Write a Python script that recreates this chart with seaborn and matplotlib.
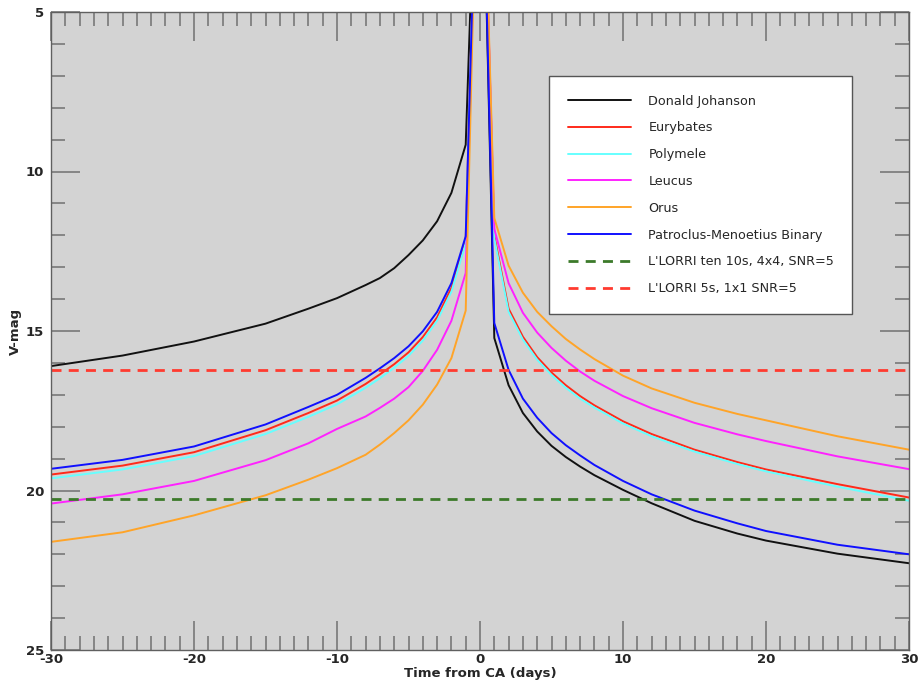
import matplotlib
matplotlib.use("Agg")
import matplotlib.pyplot as plt
from matplotlib.ticker import MultipleLocator
import seaborn as sns
import pandas as pd

# ---- data ----
days = [-30, -25, -20, -15, -12, -10, -8, -7, -6, -5, -4, -3, -2, -1, 0,
        1, 2, 3, 4, 5, 6, 7, 8, 10, 12, 15, 18, 20, 25, 30]

donald_johanson = [16.10, 15.77, 15.33, 14.77, 14.30, 13.97, 13.56, 13.34, 13.03, 12.62, 12.16, 11.56, 10.67, 9.16, -4.0,
                   15.22, 16.70, 17.57, 18.15, 18.60, 18.95, 19.25, 19.52, 19.98, 20.40, 20.95, 21.35, 21.57, 21.98, 22.28]
eurybates = [19.50, 19.22, 18.80, 18.11, 17.57, 17.18, 16.66, 16.36, 16.04, 15.67, 15.19, 14.57, 13.65, 12.12, -4.0,
             12.00, 14.30, 15.18, 15.82, 16.30, 16.70, 17.04, 17.33, 17.83, 18.23, 18.72, 19.11, 19.34, 19.80, 20.22]
polymele = [19.62, 19.34, 18.92, 18.23, 17.69, 17.30, 16.78, 16.48, 16.15, 15.78, 15.30, 14.68, 13.77, 12.25, -4.0,
            12.10, 14.40, 15.27, 15.90, 16.38, 16.78, 17.12, 17.40, 17.90, 18.30, 18.78, 19.17, 19.40, 19.88, 20.32]
leucus = [20.41, 20.12, 19.70, 19.05, 18.52, 18.07, 17.68, 17.41, 17.12, 16.76, 16.25, 15.59, 14.68, 13.18, -4.0,
          11.80, 13.50, 14.43, 15.05, 15.53, 15.93, 16.27, 16.56, 17.04, 17.42, 17.88, 18.24, 18.45, 18.93, 19.33]
orus = [21.61, 21.31, 20.78, 20.15, 19.66, 19.30, 18.88, 18.56, 18.20, 17.80, 17.31, 16.68, 15.85, 14.36, -4.0,
        11.46, 12.95, 13.80, 14.40, 14.85, 15.25, 15.58, 15.88, 16.40, 16.80, 17.25, 17.60, 17.80, 18.30, 18.72]
patroclus = [19.32, 19.04, 18.62, 17.93, 17.38, 17.00, 16.47, 16.17, 15.85, 15.48, 15.01, 14.40, 13.50, 12.03, -4.0,
             14.75, 16.22, 17.12, 17.72, 18.20, 18.58, 18.90, 19.20, 19.70, 20.12, 20.63, 21.03, 21.27, 21.70, 22.00]

series_names = ["Donald Johanson", "Eurybates", "Polymele", "Leucus", "Orus",
                "Patroclus-Menoetius Binary"]
series_values = [donald_johanson, eurybates, polymele, leucus, orus, patroclus]
series_colors = ["#111111", "#ff2a1a", "#66ffff", "#ff22ff", "#ffa428", "#1010ff"]

limit_names = ["L'LORRI ten 10s, 4x4, SNR=5", "L'LORRI 5s, 1x1 SNR=5"]
limit_values = [20.27, 16.22]
limit_colors = ["#3c7a2a", "#ff3b30"]

# ---- figure ----
sns.set_style("ticks")
plt.rcParams["font.family"] = ["DejaVu Sans"]
plt.rcParams["axes.unicode_minus"] = False

fig = plt.figure(figsize=(9.23, 6.81), dpi=100)
ax = fig.add_axes([51 / 923, 31 / 681, 858 / 923, 638 / 681])
ax.set_facecolor("#d3d3d3")

for name, vals, col in zip(series_names, series_values, series_colors):
    df = pd.DataFrame({"t": days, "mag": vals})
    sns.lineplot(data=df, x="t", y="mag", color=col, lw=1.4, label=name,
                 ax=ax, sort=False)

for name, val, col in zip(limit_names, limit_values, limit_colors):
    dfl = pd.DataFrame({"t": [days[0], days[-1]], "mag": [val, val]})
    sns.lineplot(data=dfl, x="t", y="mag", color=col, lw=2.0, label=name,
                 ax=ax, linestyle=(0, (3.6, 2.6)))

ax.set_xlim(-30, 30)
ax.set_ylim(25, 5)

ax.xaxis.set_major_locator(MultipleLocator(10))
ax.xaxis.set_minor_locator(MultipleLocator(1))
ax.yaxis.set_major_locator(MultipleLocator(5))
ax.yaxis.set_minor_locator(MultipleLocator(1))

tick_col = "#707070"
ax.tick_params(which="both", direction="in", top=True, right=True,
               color=tick_col, width=1.1)
ax.tick_params(which="major", length=21)
ax.tick_params(which="minor", length=10)
ax.tick_params(axis="x", which="major", pad=2)
ax.tick_params(axis="y", which="major", pad=5)

fam = ["DejaVu Sans Condensed", "Liberation Sans Narrow", "DejaVu Sans"]
for lbl in ax.get_xticklabels() + ax.get_yticklabels():
    lbl.set_fontfamily(fam)
    lbl.set_fontweight("bold")
    lbl.set_fontsize(9.5)

lab_font = dict(family=fam, weight="bold", size=9.5)
ax.set_xlabel("Time from CA (days)", fontdict=lab_font, labelpad=1)
ax.set_ylabel("V-mag", fontdict=lab_font, labelpad=3)

for sp in ax.spines.values():
    sp.set_color("#606060")
    sp.set_linewidth(1.0)

leg_x0 = (549 - 51) / 858
leg_w = (852 - 549) / 858
leg_top = (650 - 76) / 638
leg = ax.legend(loc="upper left", bbox_to_anchor=(leg_x0, 0.0, leg_w, leg_top),
                mode="expand", borderaxespad=0, frameon=True, fancybox=False,
                framealpha=1, edgecolor="#555555", fontsize=9.2,
                handlelength=5.0, handletextpad=1.33, labelspacing=1.08,
                borderpad=1.45)
leg.get_frame().set_linewidth(1.0)

fig.savefig("out.png", dpi=100)
